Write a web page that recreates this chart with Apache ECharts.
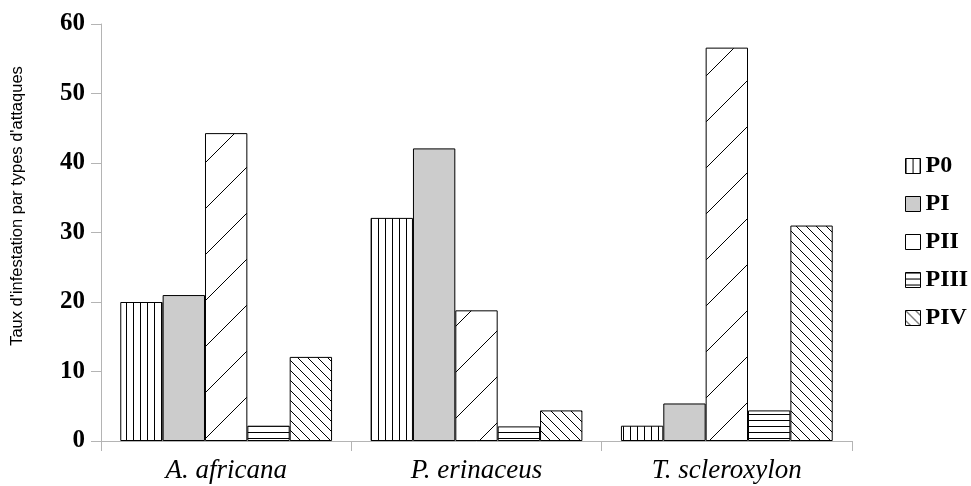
<!DOCTYPE html>
<html>
<head>
<meta charset="utf-8">
<script src="https://cdn.jsdelivr.net/npm/echarts@6/dist/echarts.min.js"></script>
<style>html,body{margin:0;padding:0;background:#fff;}#c{width:971px;height:486px;}</style>
</head>
<body>
<div id="c"></div>
<script>
var categories = ['A. africana', 'P. erinaceus', 'T. scleroxylon'];
var seriesNames = ['P0', 'PI', 'PII', 'PIII', 'PIV'];
var P0 = [20.0, 32.1, 2.2];
var PI = [21.0, 42.1, 5.4];
var PII = [44.3, 18.8, 56.6];
var PIII = [2.2, 2.1, 4.4];
var PIV = [12.1, 4.4, 31.0];
var yTicks = [0, 10, 20, 30, 40, 50, 60];
var yName = "Taux d'infestation par types d'attaques";

function tile(w, h, draw) {
  var c = document.createElement('canvas');
  c.width = w; c.height = h;
  var g = c.getContext('2d');
  g.fillStyle = '#fff'; g.fillRect(0, 0, w, h);
  g.strokeStyle = '#000'; g.lineWidth = 1;
  draw(g, w, h);
  return c;
}
var pVert = tile(7, 7, function (g, w, h) { g.beginPath(); g.moveTo(0.5, 0); g.lineTo(0.5, h); g.stroke(); });
var pHorz = tile(6, 6, function (g, w, h) { g.beginPath(); g.moveTo(0, 0.5); g.lineTo(w, 0.5); g.stroke(); });
var pFwd = tile(46, 46, function (g, w, h) {
  g.beginPath();
  for (var k = -1; k <= 1; k++) { g.moveTo(k * w, h); g.lineTo(k * w + w, 0); }
  g.stroke();
});
var pBack = tile(10, 10, function (g, w, h) {
  g.beginPath();
  for (var k = -1; k <= 1; k++) { g.moveTo(k * w, 0); g.lineTo(k * w + w, h); }
  g.stroke();
});

var fills = [
  { image: pVert, repeat: 'repeat' },
  '#cccccc',
  { image: pFwd, repeat: 'repeat' },
  { image: pHorz, repeat: 'repeat' },
  { image: pBack, repeat: 'repeat' }
];
var legendFills = [
  { image: pVert, repeat: 'repeat' },
  '#cccccc',
  '#ffffff',
  { image: pHorz, repeat: 'repeat' },
  { image: pBack, repeat: 'repeat' }
];
var dataArr = [P0, PI, PII, PIII, PIV];

var chart = echarts.init(document.getElementById('c'), null, { renderer: 'canvas' });
var option = {
  backgroundColor: '#ffffff',
  animation: false,
  grid: { left: 101, right: 119, top: 24, bottom: 45, containLabel: false },
  legend: {
    orient: 'vertical',
    left: 900,
    top: 149,
    itemWidth: 15,
    itemHeight: 15,
    itemGap: 14,
    icon: 'rect',
    textStyle: { fontFamily: 'Liberation Serif', fontWeight: 'bold', fontSize: 24, color: '#000' },
    data: seriesNames.map(function (n, i) {
      return { name: n, itemStyle: { color: legendFills[i], borderColor: '#000', borderWidth: 1 } };
    })
  },
  xAxis: {
    type: 'category',
    data: categories,
    axisLine: { show: true, lineStyle: { color: '#b4b4b4', width: 1 } },
    axisTick: { show: true, length: 10, lineStyle: { color: '#b4b4b4' } },
    axisLabel: { fontFamily: 'Liberation Serif', fontStyle: 'italic', fontSize: 27, color: '#000', margin: 16 },
    splitLine: { show: false }
  },
  yAxis: {
    type: 'value',
    min: yTicks[0],
    max: yTicks[yTicks.length - 1],
    interval: 10,
    axisLine: { show: true, lineStyle: { color: '#b4b4b4', width: 1 } },
    axisTick: { show: true, length: 10, lineStyle: { color: '#b4b4b4' } },
    axisLabel: { fontFamily: 'Liberation Serif', fontWeight: 'bold', fontSize: 25, color: '#000', margin: 16 },
    splitLine: { show: false }
  },
  graphic: [{
    type: 'text',
    x: 17, y: 206,
    rotation: Math.PI / 2,
    style: {
      text: yName,
      fontFamily: 'Liberation Sans',
      fontSize: 16.5,
      fill: '#000',
      align: 'center',
      verticalAlign: 'middle'
    }
  }],
  series: seriesNames.map(function (n, i) {
    return {
      name: n,
      type: 'bar',
      data: dataArr[i],
      barGap: '0%',
      barCategoryGap: '15.4%',
      itemStyle: { color: fills[i], borderColor: '#000', borderWidth: 1 }
    };
  })
};
chart.setOption(option);
</script>
</body>
</html>
